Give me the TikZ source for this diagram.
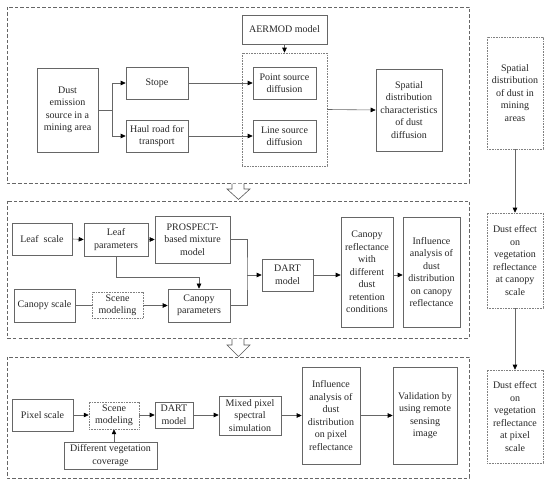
\documentclass[tikz,border=0pt]{standalone}
\usepackage{fontspec}
\setmainfont{Liberation Serif}
\usetikzlibrary{arrows.meta}
\begin{document}
\begin{tikzpicture}[x=1pt,y=-1pt,
  every node/.style={font=\fontsize{10}{12.5}\selectfont, text=black!85, inner sep=0pt, align=center},
  box/.style={draw=black!60, line width=0.6pt, rectangle},
  dotbox/.style={draw=black!50, line width=0.5pt, rectangle, dash pattern=on 0.8pt off 0.8pt},
  section/.style={draw=black!60, line width=0.6pt, dash pattern=on 3.5pt off 2pt},
  conn/.style={draw=black!60, line width=0.6pt},
  arr/.style={conn, -{Triangle[width=4.5pt,length=5pt,fill=black,color=black]}},
  blockarrow/.style={draw=black!65, line width=0.6pt, fill=white}
]
\useasboundingbox (0,0) rectangle (550,486);

% section frames
\draw[section] (7,7) rectangle (469,183);
\draw[section] (7,201) rectangle (469,338);
\draw[section] (7,357) rectangle (469,478);

% block arrows between sections
\draw[blockarrow] (232,183.6) -- (232,189) -- (227,189) -- (238.5,199.5) -- (250,189) -- (244,189) -- (244,183.6);
\draw[blockarrow] (232,338.6) -- (232,345) -- (227,345) -- (238.5,356.5) -- (250,345) -- (244,345) -- (244,338.6);

% ---------- section 1 ----------
\node[box, minimum width=61pt, minimum height=84pt] (dust) at (67.5,110) {Dust\\emission\\source in a\\mining area};
\node[box, minimum width=62pt, minimum height=32pt] (stope) at (157,83) {Stope};
\node[box, minimum width=62pt, minimum height=32pt] (haul) at (157,136) {Haul road for\\transport};
\node[box, minimum width=85pt, minimum height=29pt] (aermod) at (284.5,29.5) {AERMOD model};
\node[dotbox, minimum width=85pt, minimum height=113pt] (grp) at (284.5,109.5) {};
\node[box, minimum width=63pt, minimum height=32pt] (point) at (284.5,83) {Point source\\diffusion};
\node[box, minimum width=63pt, minimum height=32pt] (line) at (284.5,136) {Line source\\diffusion};
\node[box, minimum width=66pt, minimum height=82pt] (spatc) at (409,110) {Spatial\\distribution\\characteristics\\of dust\\diffusion};

\coordinate (b1) at (112,110);
\draw[conn] (dust.east) -- (b1);
\draw[arr] (b1) |- (stope.west);
\draw[arr] (b1) |- (haul.west);
\draw[arr] (stope.east) -- (point.west);
\draw[arr] (haul.east) -- (line.west);
\draw[arr] (aermod.south) -- (grp.north);
\draw[arr] (grp.east) -- (spatc.west);

% ---------- right column ----------
\node[dotbox, minimum width=56pt, minimum height=112pt] (r1) at (515,93) {Spatial\\distribution\\of dust in\\mining\\areas};
\node[dotbox, minimum width=56pt, minimum height=95pt] (r2) at (515,260.5) {Dust effect\\on\\vegetation\\reflectance\\at canopy\\scale};
\node[dotbox, minimum width=56pt, minimum height=93pt] (r3) at (515,416.5) {Dust effect\\on\\vegetation\\reflectance\\at pixel\\scale};
\draw[arr] (r1.south) -- (r2.north);
\draw[arr] (r2.south) -- (r3.north);

% ---------- section 2 ----------
\node[box, minimum width=60pt, minimum height=32pt] (leafs) at (42,239) {Leaf\ \ scale};
\node[box, minimum width=64pt, minimum height=33pt] (leafp) at (116,239.5) {Leaf\\parameters};
\node[box, minimum width=75pt, minimum height=47pt] (prosp) at (192.5,239.5) {PROSPECT-\\based mixture\\model};
\node[box, minimum width=61pt, minimum height=33pt] (cans) at (44.5,305.5) {Canopy scale};
\node[dotbox, minimum width=51pt, minimum height=26pt] (scene1) at (117.5,305.5) {Scene\\modeling};
\node[box, minimum width=62pt, minimum height=33pt] (canp) at (199,305.5) {Canopy\\parameters};
\node[box, minimum width=51pt, minimum height=32pt] (dart1) at (287.5,275) {DART\\model};
\node[box, minimum width=52pt, minimum height=110pt] (canr) at (367,272) {Canopy\\reflectance\\with\\different\\dust\\retention\\conditions};
\node[box, minimum width=57pt, minimum height=110pt] (infl1) at (431.5,272) {Influence\\analysis of\\dust\\distribution\\on canopy\\reflectance};

\draw[arr] (leafs.east) -- (leafp.west);
\draw[arr] (leafp.east) -- (prosp.west);
\coordinate (j1) at (199,277);
\draw[arr] (leafp.south) |- (j1) -- (canp.north);
\draw[conn] (cans.east) -- (scene1.west);
\draw[arr] (scene1.east) -- (canp.west);
\coordinate (m1) at (247,275);
\draw[conn] (prosp.east) -| (m1) |- (canp.east);
\draw[arr] (m1) -- (dart1.west);
\draw[arr] (dart1.east) -- (canr.west |- dart1.east);
\draw[arr] (canr.east |- dart1.east) -- (infl1.west |- dart1.east);

% ---------- section 3 ----------
\node[box, minimum width=61pt, minimum height=32pt] (pix) at (42.5,415) {Pixel scale};
\node[dotbox, minimum width=50pt, minimum height=27pt] (scene2) at (114,415.5) {Scene\\modeling};
\node[box, minimum width=38pt, minimum height=26pt] (dart2) at (174,415) {DART\\model};
\node[box, minimum width=62pt, minimum height=39pt] (mixed) at (250,415.5) {Mixed pixel\\spectral\\simulation};
\node[box, minimum width=93pt, minimum height=27pt] (veg) at (110.5,455.5) {Different vegetation\\coverage};
\node[box, minimum width=58pt, minimum height=97pt] (infl2) at (331,415.5) {Influence\\analysis of\\dust\\distribution\\on pixel\\reflectance};
\node[box, minimum width=64pt, minimum height=97pt] (valid) at (425,415.5) {Validation by\\using remote\\sensing\\image};

\draw[arr] (pix.east) -- (pix.east -| scene2.west);
\draw[arr] (scene2.east |- pix.east) -- (pix.east -| dart2.west);
\draw[arr] (dart2.east) -- (dart2.east -| mixed.west);
\draw[arr] (mixed.east) -- (infl2.west);
\draw[arr] (infl2.east) -- (valid.west);
\draw[arr] (scene2.south |- veg.north) -- (scene2.south);
\end{tikzpicture}
\end{document}
